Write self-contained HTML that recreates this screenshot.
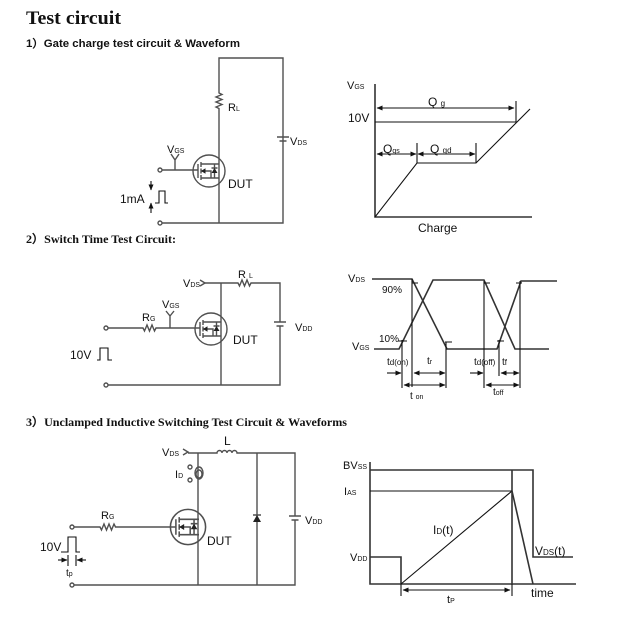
<!DOCTYPE html>
<html><head><meta charset="utf-8"><style>
html,body{margin:0;padding:0;background:#fff;}
svg{display:block;}
text{font-family:"Liberation Sans",sans-serif;fill:#111;}
.c{stroke:#505050;stroke-width:1.4;fill:none;}
.w{stroke:#111;stroke-width:1.1;fill:none;}
.w2{stroke:#333;stroke-width:1.6;fill:none;}
.f{fill:#222;stroke:none;}
.ser{font-family:"Liberation Serif",serif;font-weight:bold;}
</style></head><body>
<svg width="625" height="641" viewBox="0 0 625 641" xmlns="http://www.w3.org/2000/svg">
<defs>
<marker id="ah" markerWidth="6" markerHeight="6" refX="5.5" refY="3" orient="auto" markerUnits="userSpaceOnUse"><path d="M0,0.5 L6,3 L0,5.5 Z" fill="#111"/></marker>
<marker id="as" markerWidth="6" markerHeight="6" refX="0.5" refY="3" orient="auto" markerUnits="userSpaceOnUse"><path d="M6,0.5 L0,3 L6,5.5 Z" fill="#111"/></marker>
<g id="fet">
<circle cx="0" cy="0" r="16" class="c"/>
<path class="c" d="M-11,-7 V7 M-8,-9 V-4 M-8,-2.5 V2.5 M-8,4 V9 M-8,-7 H10 M-8,7 H10 M-8,0 H2 V7 M5.5,-7 V7 M2.5,-3 H8.5"/>
<path class="f" d="M-8,0 L-3.5,-2.7 L-3.5,2.7 Z M2.5,2 L8.5,2 L5.5,-3 Z"/>
</g>
</defs>

<!-- Titles -->
<text x="26" y="24" class="ser" font-size="19" textLength="95" lengthAdjust="spacingAndGlyphs">Test circuit</text>
<text x="26" y="47" font-size="11" font-weight="bold" textLength="214" lengthAdjust="spacingAndGlyphs">1）Gate charge test circuit &amp; Waveform</text>
<text x="26" y="243" class="ser" font-size="11.5" textLength="150" lengthAdjust="spacingAndGlyphs">2）Switch Time Test Circuit:</text>
<text x="26" y="426" class="ser" font-size="11.5" textLength="321" lengthAdjust="spacingAndGlyphs">3）Unclamped Inductive Switching Test Circuit &amp; Waveforms</text>

<!-- ===== Section 1 circuit ===== -->
<path class="c" d="M162,223 H283 V137 M283,141 V58 H219 V93 l3,1.5 l-6,2.5 l6,2.5 l-6,2.5 l6,2.5 l-6,2.5 l3,1.5 V223"/>
<path class="c" d="M277,137 H289 M279.5,141 H286.5"/>
<circle cx="160" cy="223" r="2" class="c" stroke-width="1"/>
<circle cx="160" cy="170" r="2" class="c" stroke-width="1"/>
<path class="c" d="M162,170 H198 M175,170 V160 L171,154 M175,160 L179,154"/>
<use href="#fet" x="209" y="171"/>
<text x="228" y="111" font-size="11">R<tspan font-size="7">L</tspan></text>
<text x="290" y="145" font-size="11">V<tspan font-size="7">DS</tspan></text>
<text x="167" y="153" font-size="11">V<tspan font-size="7">GS</tspan></text>
<text x="228" y="188" font-size="12">DUT</text>
<text x="120" y="203" font-size="12">1mA</text>
<path class="w" d="M151,181 V190" marker-end="url(#ah)"/>
<path class="w" d="M151,213 V203" marker-end="url(#ah)"/>
<path class="w" d="M155,203 H159 V191 H165 V203 H168"/>

<!-- ===== Section 1 waveform ===== -->
<path class="w2" d="M375,84 V217 H532"/>
<text x="347" y="89" font-size="11">V<tspan font-size="7">GS</tspan></text>
<text x="348" y="122" font-size="12">10V</text>
<path class="w" d="M375,122 H516 M516,101 V122 M417,143 V163 M476,143 V163"/>
<path class="w" d="M377,108 H514" marker-start="url(#as)" marker-end="url(#ah)"/>
<text x="428" y="106" font-size="12">Q <tspan font-size="8">g</tspan></text>
<path class="w" d="M375,217 L417,163 H476 L530,109"/>
<path class="w" d="M377,154 H416" marker-start="url(#as)" marker-end="url(#ah)"/>
<path class="w" d="M418,154 H475" marker-start="url(#as)" marker-end="url(#ah)"/>
<text x="383" y="153" font-size="12">Q<tspan font-size="7">gs</tspan></text>
<text x="430" y="153" font-size="12">Q <tspan font-size="8">gd</tspan></text>
<text x="418" y="232" font-size="12">Charge</text>

<!-- ===== Section 2 circuit ===== -->
<text x="183" y="287" font-size="11">V<tspan font-size="7">DS</tspan></text>
<path class="c" d="M200,280 L205,283 L200,286" stroke-width="1"/>
<path class="c" d="M205,283 H238 l1.5,3 l2.5,-6 l2.5,6 l2.5,-6 l2.5,6 l1.5,-3 H280 V322 M280,326 V385 H108"/>
<path class="c" d="M274,322 H286 M276.5,326 H283.5"/>
<path class="c" d="M221,283 V385"/>
<use href="#fet" x="211" y="329"/>
<path class="c" d="M108,328 H143 l1.5,3 l2.5,-6 l2.5,6 l2.5,-6 l2.5,6 l1.5,-3 H200 M170,328 V316 L166,311 M170,316 L174,311"/>
<circle cx="106" cy="328" r="2" class="c" stroke-width="1"/>
<circle cx="106" cy="385" r="2" class="c" stroke-width="1"/>
<text x="238" y="278" font-size="11">R <tspan font-size="7">L</tspan></text>
<text x="142" y="321" font-size="11">R<tspan font-size="7">G</tspan></text>
<text x="162" y="308" font-size="11">V<tspan font-size="7">GS</tspan></text>
<text x="295" y="331" font-size="11">V<tspan font-size="7">DD</tspan></text>
<text x="233" y="344" font-size="12">DUT</text>
<text x="70" y="359" font-size="12">10V</text>
<path class="w" d="M97,360 H100 V348 H108 V360 H112"/>

<!-- ===== Section 2 waveform ===== -->
<text x="348" y="282" font-size="11">V<tspan font-size="7">DS</tspan></text>
<path class="w2" d="M372,279 H412 L447,349 H497 L521,281 H557"/>
<path class="w2" d="M374,349 H399 L433,280 H484 L515,349 H549"/>
<path class="w" d="M412,279 V387 M402,340 V388 M446,342 V388 M484,281 V388 M499,340 V376 M520,281 V388"/>
<path class="w" d="M412,283 H418 M398,341 H407 M445,342 H452 M484,283 H490 M497,341 H504 M516,283 H522"/>
<text x="382" y="293" font-size="10">90%</text>
<text x="379" y="342" font-size="10">10%</text>
<text x="352" y="350" font-size="11">V<tspan font-size="7">GS</tspan></text>
<text x="387" y="365" font-size="10">t<tspan font-size="8">d(on)</tspan></text>
<text x="427" y="364" font-size="10">t<tspan font-size="7">r</tspan></text>
<text x="474" y="365" font-size="10">t<tspan font-size="8">d(off)</tspan></text>
<text x="502" y="365" font-size="10">t<tspan font-size="8">f</tspan></text>
<path class="w" d="M387,373 H401" marker-end="url(#ah)"/>
<path class="w" d="M414,373 H445" marker-start="url(#as)" marker-end="url(#ah)"/>
<path class="w" d="M404,385 H445" marker-start="url(#as)" marker-end="url(#ah)"/>
<text x="410" y="399" font-size="10">t <tspan font-size="7">on</tspan></text>
<path class="w" d="M470,373 H483" marker-end="url(#ah)"/>
<path class="w" d="M501,373 H519" marker-start="url(#as)" marker-end="url(#ah)"/>
<path class="w" d="M486,385 H519" marker-start="url(#as)" marker-end="url(#ah)"/>
<text x="493" y="395" font-size="10">t<tspan font-size="7">off</tspan></text>

<!-- ===== Section 3 circuit ===== -->
<text x="162" y="456" font-size="11">V<tspan font-size="7">DS</tspan></text>
<path class="c" d="M183,449 L188,452 L183,455" stroke-width="1"/>
<path class="c" d="M188,453 H217 a2.5,2.5 0 0 1 5,0 a2.5,2.5 0 0 1 5,0 a2.5,2.5 0 0 1 5,0 a2.5,2.5 0 0 1 5,0 H295 V516 M295,520 V585 H74"/>
<path class="c" d="M289,516 H301 M291.5,520 H298.5"/>
<text x="224" y="445" font-size="12">L</text>
<path class="c" d="M198,453 V585"/>
<ellipse cx="199" cy="473" rx="4" ry="6" class="c" stroke-width="1.2"/>
<ellipse cx="199" cy="474" rx="3" ry="4" class="c" stroke-width="1"/>
<circle cx="190" cy="467" r="2" class="c" stroke-width="1"/>
<circle cx="190" cy="480" r="2" class="c" stroke-width="1"/>
<text x="175" y="478" font-size="11">I<tspan font-size="7">D</tspan></text>
<g transform="translate(188,527) scale(1.1)"><use href="#fet"/></g>
<path class="c" d="M74,527 H100 l1.5,3 l2.5,-6 l2.5,6 l2.5,-6 l2.5,6 l2.5,-6 l1.5,3 H176"/>
<circle cx="72" cy="527" r="2" class="c" stroke-width="1"/>
<circle cx="72" cy="585" r="2" class="c" stroke-width="1"/>
<text x="101" y="519" font-size="11">R<tspan font-size="7">G</tspan></text>
<path class="c" d="M257,453 V585 M253,515 H261"/>
<path class="f" d="M253,522 L261,522 L257,515 Z"/>
<text x="305" y="524" font-size="11">V<tspan font-size="7">DD</tspan></text>
<text x="207" y="545" font-size="12">DUT</text>
<text x="40" y="551" font-size="12">10V</text>
<path class="w" d="M61,552 H68 V537 H76 V552 H80 M68,555 V566 M76,555 V566"/>
<path class="w" d="M58,560 H67" marker-end="url(#ah)"/>
<path class="w" d="M86,560 H77" marker-end="url(#ah)"/>
<text x="66" y="576" font-size="10">t<tspan font-size="7">p</tspan></text>

<!-- ===== Section 3 waveform ===== -->
<path class="w2" d="M370,462 V584 H576"/>
<text x="343" y="469" font-size="11">BV<tspan font-size="7">SS</tspan></text>
<path class="w2" d="M370,470 H533 V557 H573"/>
<path class="w2" d="M512,470 V584"/>
<path class="w" d="M370,491 H512"/>
<text x="344" y="495" font-size="11">I<tspan font-size="7">AS</tspan></text>
<path class="w2" d="M370,557 H401 V584"/>
<text x="350" y="561" font-size="11">V<tspan font-size="7">DD</tspan></text>
<path class="w" d="M401,584 L512,491"/>
<path class="w2" d="M512,491 L533,584"/>
<text x="433" y="534" font-size="12">I<tspan font-size="8">D</tspan>(t)</text>
<text x="535" y="555" font-size="12">V<tspan font-size="8">DS</tspan>(t)</text>
<text x="531" y="597" font-size="12">time</text>
<path class="w" d="M401,584 V596 M512,584 V596"/>
<path class="w" d="M403,590 H510" marker-start="url(#as)" marker-end="url(#ah)"/>
<text x="447" y="603" font-size="11">t<tspan font-size="7">P</tspan></text>
</svg>
</body></html>
